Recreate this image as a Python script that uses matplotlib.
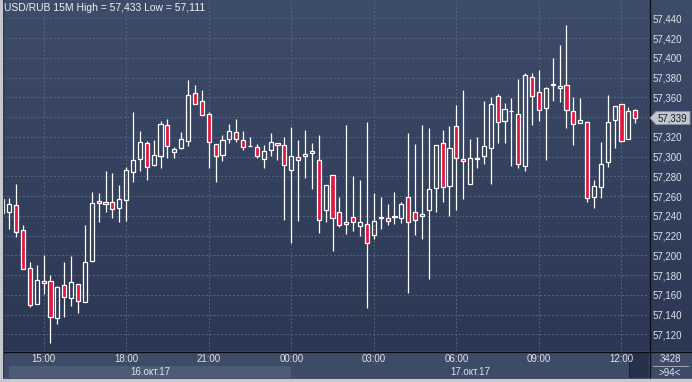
import matplotlib
matplotlib.use("Agg")
import matplotlib.pyplot as plt
import numpy as np
from matplotlib.colors import LinearSegmentedColormap
from matplotlib.patches import Rectangle, Polygon
from matplotlib.lines import Line2D
from matplotlib.transforms import blended_transform_factory, IdentityTransform

plt.rcParams['font.family'] = ['Liberation Sans', 'DejaVu Sans']

# USD/RUB 15M candles, 16.10.17 13:30 .. 17.10.17 12:30
opens = [57.257, 57.244, 57.251, 57.226, 57.187, 57.151, 57.174, 57.174, 57.137, 57.170,
         57.157, 57.171, 57.153, 57.194, 57.255, 57.254, 57.254, 57.248, 57.256, 57.284,
         57.298, 57.314, 57.291, 57.301, 57.332, 57.305, 57.309, 57.316, 57.364, 57.356,
         57.343, 57.313, 57.302, 57.318, 57.325, 57.317, 57.311, 57.310, 57.298, 57.307,
         57.314, 57.312, 57.286, 57.300, 57.301, 57.304, 57.296, 57.246, 57.281, 57.244,
         57.232, 57.239, 57.230, 57.232, 57.221, 57.238, 57.238, 57.239, 57.238, 57.259,
         57.244, 57.240, 57.246, 57.268, 57.314, 57.270, 57.331, 57.298, 57.272, 57.298,
         57.301, 57.309, 57.361, 57.336, 57.346, 57.343, 57.290, 57.381, 57.365, 57.349,
         57.372, 57.369, 57.372, 57.346, 57.334, 57.335, 57.259, 57.269, 57.294, 57.337,
         57.353, 57.318, 57.347]
highs = [57.258, 57.258, 57.272, 57.231, 57.193, 57.190, 57.200, 57.180, 57.169, 57.193,
         57.199, 57.171, 57.231, 57.264, 57.263, 57.285, 57.283, 57.271, 57.289, 57.345,
         57.326, 57.316, 57.317, 57.336, 57.338, 57.310, 57.325, 57.377, 57.372, 57.367,
         57.345, 57.313, 57.322, 57.333, 57.338, 57.326, 57.320, 57.313, 57.312, 57.324,
         57.314, 57.320, 57.330, 57.317, 57.327, 57.314, 57.322, 57.271, 57.281, 57.259,
         57.332, 57.280, 57.276, 57.335, 57.263, 57.259, 57.252, 57.264, 57.254, 57.324,
         57.313, 57.332, 57.329, 57.312, 57.327, 57.331, 57.352, 57.367, 57.318, 57.320,
         57.356, 57.360, 57.363, 57.354, 57.359, 57.379, 57.385, 57.385, 57.388, 57.370,
         57.400, 57.413, 57.433, 57.360, 57.359, 57.336, 57.276, 57.315, 57.362, 57.351,
         57.353, 57.350, 57.348]
lows = [57.243, 57.227, 57.219, 57.186, 57.148, 57.151, 57.161, 57.111, 57.130, 57.138,
        57.149, 57.142, 57.153, 57.194, 57.234, 57.244, 57.238, 57.234, 57.235, 57.274,
        57.285, 57.276, 57.290, 57.288, 57.299, 57.299, 57.308, 57.311, 57.353, 57.342,
        57.288, 57.274, 57.295, 57.314, 57.315, 57.307, 57.311, 57.299, 57.288, 57.301,
        57.297, 57.236, 57.212, 57.235, 57.278, 57.267, 57.223, 57.234, 57.204, 57.229,
        57.222, 57.225, 57.220, 57.147, 57.217, 57.227, 57.231, 57.232, 57.233, 57.162,
        57.221, 57.216, 57.176, 57.244, 57.254, 57.240, 57.246, 57.257, 57.272, 57.288,
        57.292, 57.272, 57.314, 57.314, 57.290, 57.288, 57.285, 57.332, 57.336, 57.296,
        57.356, 57.355, 57.329, 57.312, 57.334, 57.254, 57.248, 57.258, 57.289, 57.309,
        57.315, 57.318, 57.334]
closes = [57.243, 57.252, 57.224, 57.186, 57.150, 57.175, 57.172, 57.138, 57.168, 57.158,
          57.173, 57.154, 57.193, 57.253, 57.253, 57.252, 57.247, 57.257, 57.286, 57.297,
          57.315, 57.289, 57.302, 57.333, 57.311, 57.308, 57.318, 57.362, 57.353, 57.342,
          57.315, 57.301, 57.317, 57.326, 57.318, 57.310, 57.311, 57.301, 57.306, 57.315,
          57.312, 57.291, 57.301, 57.296, 57.303, 57.306, 57.236, 57.271, 57.238, 57.231,
          57.234, 57.234, 57.234, 57.212, 57.235, 57.239, 57.235, 57.240, 57.252, 57.234,
          57.236, 57.242, 57.267, 57.312, 57.269, 57.309, 57.299, 57.295, 57.299, 57.299,
          57.311, 57.353, 57.335, 57.348, 57.346, 57.292, 57.383, 57.361, 57.347, 57.369,
          57.373, 57.371, 57.347, 57.333, 57.337, 57.258, 57.270, 57.292, 57.335, 57.351,
          57.316, 57.346, 57.339]

price_ticks = [57.12, 57.14, 57.16, 57.18, 57.20, 57.22, 57.24, 57.26, 57.28,
               57.30, 57.32, 57.34, 57.36, 57.38, 57.40, 57.42, 57.44]
time_idx = [6, 18, 30, 42, 54, 66, 78, 90]
time_labels = ['15:00', '18:00', '21:00', '00:00', '03:00', '06:00', '09:00', '12:00']
day_labels = ['16.окт.17', '17.окт.17']
day_spans = [(1, 42), (42, 94)]
bars_total = 3428

W, H = 692, 382
TXT = '#dde2ea'

def fx(px):
    return px / W

def fy(py):
    return 1 - py / H

def fmt(v):
    return ('%.3f' % v).replace('.', ',')

fig = plt.figure(figsize=(W / 100, H / 100), dpi=100)

# background gradient
bg = fig.add_axes([0, 0, 1, 1])
bg.axis('off')
cmap = LinearSegmentedColormap.from_list('bg', ['#3d4c69', '#2a3551'])
bg.imshow(np.linspace(0, 1, 256).reshape(-1, 1), aspect='auto', cmap=cmap,
          extent=[0, 1, 0, 1])
bg.set_xlim(0, 1)
bg.set_ylim(0, 1)

ax = fig.add_axes([fx(3), fy(351), fx(646), 351 / H])
ax.patch.set_alpha(0)

o = np.array(opens)
h = np.array(highs)
l = np.array(lows)
c = np.array(closes)
x = np.arange(len(o))
up = c >= o
top = np.maximum(o, c)
bot = np.minimum(o, c)

ax.vlines(x, top, h, color='white', lw=0.9, zorder=3)
ax.vlines(x, l, bot, color='white', lw=0.9, zorder=3)
ax.bar(x[up], (top - bot)[up], bottom=bot[up], width=0.6, facecolor='none',
       edgecolor='white', lw=0.9, zorder=4)
ax.bar(x[~up], (top - bot)[~up], bottom=bot[~up], width=0.6, facecolor='#e3173e',
       edgecolor='white', lw=0.9, zorder=4)

ax.set_xlim(0.1, 94.0)
ax.set_ylim(57.1031, 57.4585)
ax.set_xticks(time_idx)
ax.set_yticks(price_ticks)
# the tick label next to the last price is covered by the price marker
last = closes[-1]
ax.set_yticklabels(['' if abs(v - last) < 0.008 else fmt(v) for v in price_ticks])
ax.yaxis.tick_right()
ax.tick_params(axis='y', length=0, pad=2.5, labelsize=7, labelcolor=TXT)
ax.tick_params(axis='x', length=0, labelbottom=False)
ax.grid(True, color='#56647f', linestyle=(0, (2, 2)), linewidth=0.7, zorder=1)
for s in ax.spines.values():
    s.set_visible(False)

# bottom time strip
sx = fig.add_axes([fx(3), fy(378), fx(646), 27 / H])
sx.set_xlim(ax.get_xlim())
sx.set_ylim(0, 1)
sx.axis('off')
sx.add_patch(Rectangle((0, 0), 1, 1, transform=sx.transAxes, color='#3e4b67', zorder=0))
sx.axvspan(day_spans[0][0], day_spans[0][1], 0, 12 / 27, color='#4e5b77', lw=0, zorder=1)
tr = blended_transform_factory(sx.transData, sx.transAxes)
for i, t in zip(time_idx, time_labels):
    sx.text(i, 0.70, t, transform=tr, ha='center', va='center', color=TXT, size=7, zorder=3)
for (a, b), d in zip(day_spans, day_labels):
    sx.text((a + b) / 2, 0.22, d, transform=tr, ha='center', va='center', color=TXT,
            size=7, zorder=3)
# scroll thumb
sx.add_patch(Rectangle((91.05, 0.0), 2.9, 0.97, color='#27314a', ec='#1d2539', lw=0.8, zorder=2))

# right-bottom box
fig.patches.append(Rectangle((fx(649), fy(378)), fx(43), 27 / H, transform=fig.transFigure,
                             color='#3e4b67', zorder=0))
fig.text(fx(670), fy(359), str(bars_total), ha='center', va='center', color=TXT, size=7)
fig.text(fx(670), fy(373), '>%d<' % (len(o) + 1), ha='center', va='center', color=TXT, size=7)
fig.lines.append(Line2D([fx(653), fx(688)], [fy(366), fy(366)], transform=fig.transFigure,
                        color='#a0a8b8', lw=0.7))

# frame lines
fig.lines.append(Line2D([fx(649.5), fx(649.5)], [fy(0), fy(378)], transform=fig.transFigure,
                        color='#0a0d14', lw=0.9))
fig.lines.append(Line2D([fx(3), fx(692)], [fy(351.5), fy(351.5)], transform=fig.transFigure,
                        color='#0a0d14', lw=0.9))
fig.lines.append(Line2D([fx(2.5), fx(2.5)], [fy(0), fy(378)], transform=fig.transFigure,
                        color='#141a26', lw=0.9))
fig.patches.append(Rectangle((0, 0), 1, fy(378.5), transform=fig.transFigure,
                             color='#c5c9cf', zorder=5))
fig.patches.append(Rectangle((0, 0), fx(2), 1, transform=fig.transFigure,
                             color='#c5c9cf', zorder=5))

# header
fig.text(fx(4), fy(8), 'USD/RUB 15M High = %s Low = %s' % (fmt(max(highs)), fmt(min(lows))),
         ha='left', va='center', color='#eef1f5', size=7.5)

# last price marker
fig.canvas.draw()
yp = ax.transData.transform((0, last))[1]
pts = [(650, yp), (656, yp + 6.5), (690, yp + 6.5), (690, yp - 6.5), (656, yp - 6.5)]
fig.patches.append(Polygon(pts, closed=True, transform=IdentityTransform(),
                           fc='#c3c7ce', ec='#8b919c', lw=0.7, zorder=6))
fig.text(fx(672), yp / H, fmt(last), ha='center', va='center', color='#1a1d24',
         size=7, zorder=7)

fig.savefig('out.png', dpi=100)
